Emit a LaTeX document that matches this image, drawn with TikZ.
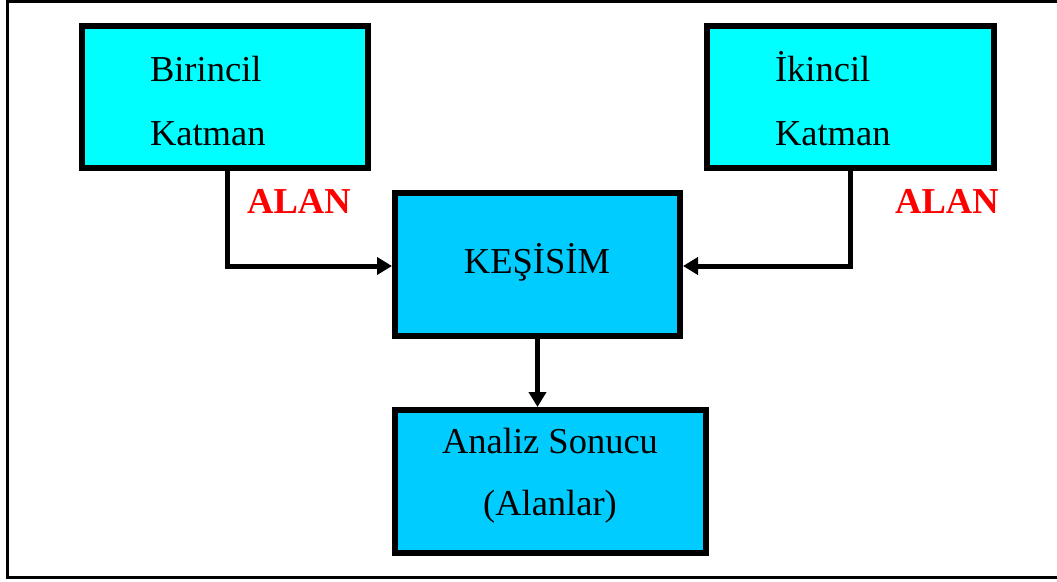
\documentclass[tikz,border=0pt]{standalone}
\usepackage{fontspec}
\setmainfont{Liberation Serif}
\usetikzlibrary{arrows.meta}
\definecolor{topcyan}{HTML}{00FFFF}
\definecolor{midblue}{HTML}{00CCFF}
\definecolor{alanred}{HTML}{FF0000}
\begin{document}
\begin{tikzpicture}[x=1pt,y=-1pt,
  box/.style={draw=black,line width=6pt,rectangle,inner sep=0pt,outer sep=0pt},
  txt/.style={font=\fontsize{36.5}{36.5}\selectfont,inner sep=0pt,outer sep=0pt},
  lbl/.style={font=\fontsize{36.5}{36.5}\selectfont\bfseries,text=alanred,inner sep=0pt},
  conn/.style={draw=black,line width=5pt,line join=miter,-{Triangle[length=15pt,width=17pt]},shorten >=3pt}]
\useasboundingbox (0,0) rectangle (1057,581);
\fill[white] (0,0) rectangle (1057,581);
\draw[line width=3pt,black] (7.5,1.5) rectangle (1075,577);
% boxes
\node[box,fill=topcyan,minimum width=286pt,minimum height=142pt] (b1) at (225,97) {};
\node[box,fill=topcyan,minimum width=287pt,minimum height=142pt] (b2) at (850.5,97) {};
\node[box,fill=midblue,minimum width=285pt,minimum height=143pt] (kes) at (537.5,264.5) {};
\node[box,fill=midblue,minimum width=311pt,minimum height=143pt] (res) at (550.5,481.5) {};
% texts
\node[txt,anchor=base west] (t1a) at (150,81) {Birincil};
\node[txt,anchor=base west] (t1b) at (150,145) {Katman};
\node[txt,anchor=base west] (t2a) at (775,81) {İkincil};
\node[txt,anchor=base west] (t2b) at (775,145) {Katman};
\node[txt,anchor=base] (tk) at (537,273) {KEŞİSİM};
\node[txt,anchor=base] (tr1) at (550,453) {Analiz Sonucu};
\node[txt,anchor=base] (tr2) at (550,515) {(Alanlar)};
\node[lbl,anchor=base west] (al1) at (247,213) {ALAN};
\node[lbl,anchor=base west] (al2) at (895,213) {ALAN};
% connectors
\coordinate (c1) at (227,266);
\coordinate (c2) at (850,266);
\draw[conn] (c1 |- b1.south) -- (c1) -- (kes.west |- c1);
\draw[conn] (c2 |- b2.south) -- (c2) -- (kes.east |- c2);
\draw[conn] (kes.south) -- (res.north -| kes.south);
\end{tikzpicture}
\end{document}
